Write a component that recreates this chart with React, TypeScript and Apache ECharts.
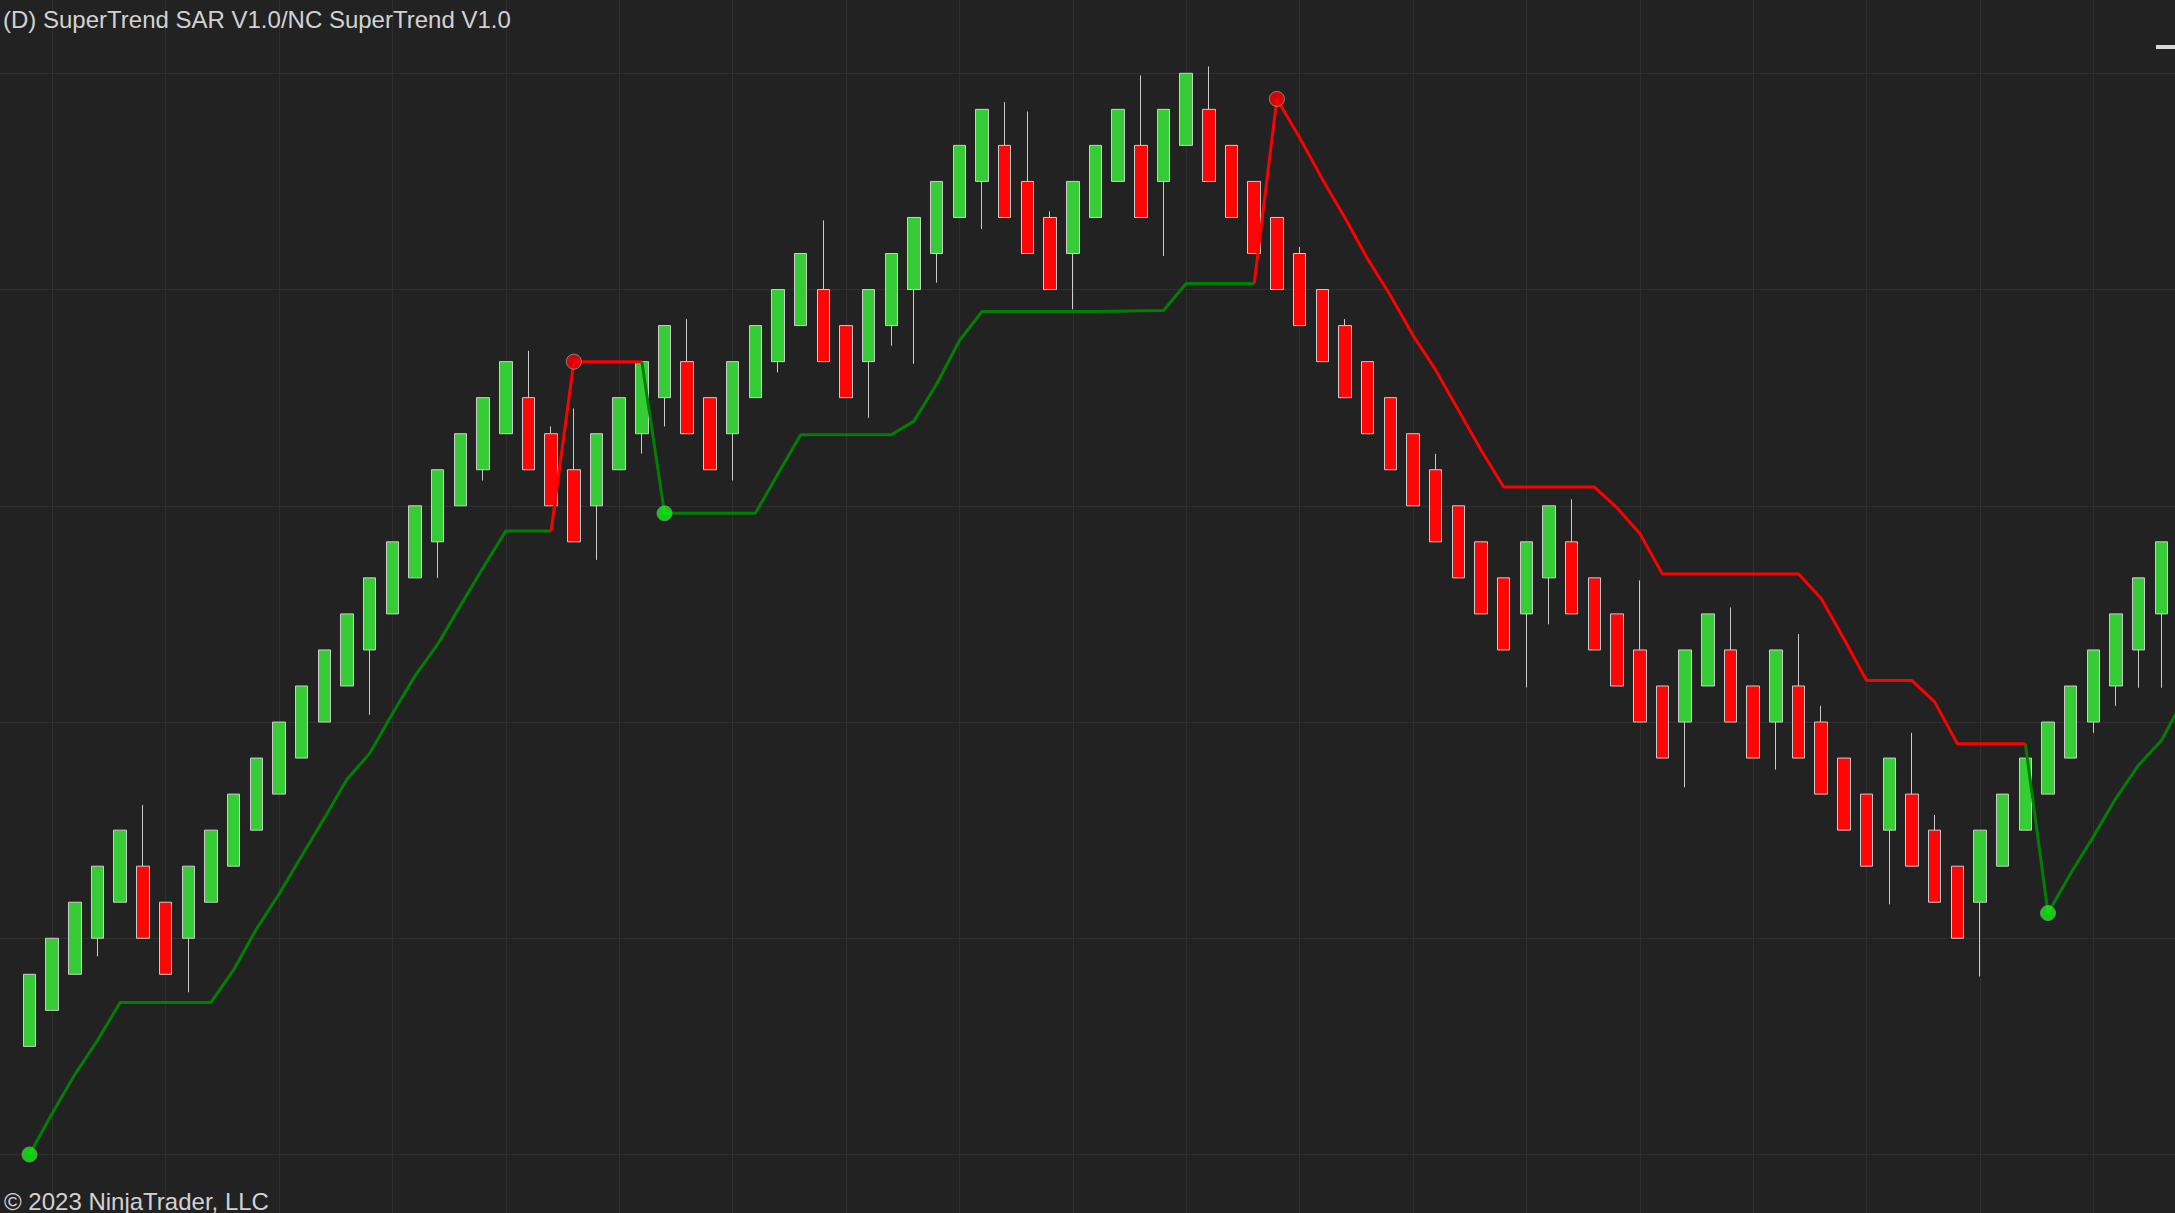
import React, { useEffect, useRef } from 'react';
import * as echarts from 'echarts';

const TITLE = '(D) SuperTrend SAR V1.0/NC SuperTrend V1.0';
const COPYRIGHT = '© 2023 NinjaTrader, LLC';

// Renko bricks, bar 1..95
const OPENS = [3,4,5,6,7,8,7,6,7,8,9,10,11,12,13,14,15,16,17,18,19,20,21,20,19,18,19,20,21,22,21,20,21,22,23,24,23,22,23,24,25,26,27,28,27,26,25,26,27,28,27,28,29,28,27,26,25,24,23,22,21,20,19,18,17,16,15,16,17,16,15,14,13,12,13,14,13,12,13,12,11,10,9,10,9,8,7,8,9,10,11,12,13,14,15];
const CLOSES = [5,6,7,8,9,6,5,8,9,10,11,12,13,14,15,16,17,18,19,20,21,22,19,18,17,20,21,22,23,20,19,22,23,24,25,22,21,24,25,26,27,28,29,26,25,24,27,28,29,26,29,30,27,26,25,24,23,22,21,20,19,18,17,16,15,14,17,18,15,14,13,12,11,14,15,12,11,14,11,10,9,8,11,8,7,6,9,10,11,12,13,14,15,16,17];
const LOWS = [3,4,5,5.5,7,6,5,4.5,7,8,9,10,11,12,13,12.2,15,16,16,18,18.7,20,19,18,17,16.5,19,19.45,20.2,20,19,18.7,21,21.7,23,22,21,20.44,22.44,21.94,24.19,26,25.68,26,25,24,23.45,26,27,26,24.93,28,27,26,25,24,23,22,21,20,19,18,17,16,15,14,12.96,14.71,15,14,13,12,11,10.19,13,12,11,10.68,11,10,9,8,6.94,8,7,6,4.94,8,9,10,11,11.7,12.45,12.95,12.95];
const HIGHS = [5,6,7,8,9,9.7,7,8,9,10,11,12,13,14,15,16,17,18,19,20,21,22,22.3,20.2,20.7,20,21,22,23,23.18,21,22,23,24,25,25.92,23,24,25,26,27,28,29,29.2,28.94,26.17,27,28,29,29.94,29,30,30.19,28,27,26,25.18,24,23.18,22,21,20,19.44,18,17,16,17,18,18.18,16,15,15.93,13,14,15,15.18,13,14,14.44,12.45,11,10,11,11.7,9.42,8,9,10,11,12,13,14,15,16,17];

// SuperTrend value and direction (1 = up / green, -1 = down / red), bar 1..96
const SUPERTREND = [0,1.14,2.22,3.17,4.22,4.22,4.22,4.22,4.22,5.12,6.25,7.22,8.28,9.33,10.41,11.13,12.23,13.28,14.16,15.23,16.28,17.3,17.3,17.3,22,22,22,22,17.79,17.79,17.79,17.79,17.79,18.88,19.97,19.97,19.97,19.97,19.97,20.35,21.38,22.58,23.39,23.39,23.39,23.39,23.39,23.39,23.4,23.41,23.42,24.17,24.17,24.17,24.17,29.29,28.22,27.07,25.99,24.85,23.84,22.73,21.77,20.66,19.55,18.52,18.52,18.52,18.52,18.52,17.94,17.23,16.11,16.11,16.11,16.11,16.11,16.11,16.11,15.43,14.31,13.15,13.15,13.15,12.56,11.4,11.4,11.4,11.4,6.7,7.8,8.82,9.89,10.81,11.49,12.66];
const DIRECTION = [1,1,1,1,1,1,1,1,1,1,1,1,1,1,1,1,1,1,1,1,1,1,1,1,-1,-1,-1,-1,1,1,1,1,1,1,1,1,1,1,1,1,1,1,1,1,1,1,1,1,1,1,1,1,1,1,1,-1,-1,-1,-1,-1,-1,-1,-1,-1,-1,-1,-1,-1,-1,-1,-1,-1,-1,-1,-1,-1,-1,-1,-1,-1,-1,-1,-1,-1,-1,-1,-1,-1,-1,1,1,1,1,1,1,1];

// Grid lines
const GRID_PRICES = [0, 6, 12, 18, 24, 30];
const GRID_BARS = [2, 7, 12, 17, 22, 27, 32, 37, 42, 47, 52, 57, 62, 67, 72, 77, 82, 87, 92];

const BG = '#222222';
const GRID_COLOR = '#2f2f2f';
const UP_FILL = '#36cc36';
const DOWN_FILL = '#ff0505';
const OUTLINE = '#cccccc';
const UP_LINE = '#008000';
const DOWN_LINE = '#ff0000';
const TEXT_COLOR = '#d2d2d2';
const FONT = '24px "Liberation Sans", Arial, sans-serif';

export default function App() {
  const ref = useRef<HTMLDivElement>(null);

  useEffect(() => {
    const chart = echarts.init(ref.current!, null, { renderer: 'svg' });
    const n = SUPERTREND.length;
    const categories = ['0'].concat(SUPERTREND.map((_, i) => String(i + 1)));

    const candles: any[] = [['-', '-', '-', '-']];
    for (let i = 0; i < n; i++) {
      if (i < OPENS.length) candles.push([OPENS[i], CLOSES[i], LOWS[i], HIGHS[i]]);
      else candles.push(['-', '-', '-', '-']);
    }

    const upLine: any[] = [null];
    const downLine: any[] = [null];
    const upDots: any[] = [];
    const downDots: any[] = [];
    for (let i = 0; i < n; i++) {
      const d = DIRECTION[i];
      const next = i + 1 < n ? DIRECTION[i + 1] : d;
      const v = SUPERTREND[i];
      upLine.push(d === 1 || next === 1 ? v : null);
      downLine.push(d === -1 || next === -1 ? v : null);
      if (i === 0 || DIRECTION[i - 1] !== d) {
        (d === 1 ? upDots : downDots).push([String(i + 1), v]);
      }
    }

    const option: any = {
      animation: false,
      backgroundColor: BG,
      grid: {
        left: -4.52,
        top: 0,
        width: 2199.96,
        height: 1213,
        containLabel: false,
        outerBoundsMode: 'none',
      },
      xAxis: {
        type: 'category',
        data: categories,
        boundaryGap: true,
        show: false,
      },
      yAxis: {
        type: 'value',
        min: -1.623,
        max: 32.034,
        show: false,
        splitLine: { show: false },
      },
      series: [
        {
          type: 'line',
          data: categories.map(() => null),
          z: 1,
          silent: true,
          markLine: {
            silent: true,
            z: 1,
            symbol: ['none', 'none'],
            label: { show: false },
            lineStyle: { color: GRID_COLOR, width: 1, type: 'solid' },
            emphasis: { disabled: true },
            data: [
              ...GRID_PRICES.map((p) => ({ yAxis: p })),
              ...GRID_BARS.map((b) => ({ xAxis: String(b) })),
            ],
          },
        },
        {
          type: 'candlestick',
          data: candles,
          z: 2,
          barWidth: 13,
          itemStyle: {
            color: UP_FILL,
            color0: DOWN_FILL,
            borderColor: OUTLINE,
            borderColor0: OUTLINE,
            borderWidth: 1,
          },
        },
        {
          type: 'line',
          data: upLine,
          z: 3,
          symbol: 'none',
          connectNulls: false,
          lineStyle: { color: UP_LINE, width: 3 },
        },
        {
          type: 'line',
          data: downLine,
          z: 3,
          symbol: 'none',
          connectNulls: false,
          lineStyle: { color: DOWN_LINE, width: 3 },
        },
        {
          type: 'scatter',
          data: upDots,
          z: 4,
          symbolSize: 15,
          itemStyle: { color: '#11f511', borderColor: '#8a8a8a', borderWidth: 1 },
        },
        {
          type: 'scatter',
          data: downDots,
          z: 4,
          symbolSize: 15,
          itemStyle: { color: '#ff0000', borderColor: '#9a9a9a', borderWidth: 1 },
        },
      ],
      graphic: [
        {
          type: 'text',
          x: 3,
          y: 19,
          z: 10,
          style: {
            text: TITLE,
            fill: TEXT_COLOR,
            font: FONT,
            verticalAlign: 'middle',
            textVerticalAlign: 'middle',
          },
        },
        {
          type: 'text',
          x: 4,
          y: 1201.5,
          z: 10,
          style: {
            text: COPYRIGHT,
            fill: TEXT_COLOR,
            font: FONT,
            verticalAlign: 'middle',
            textVerticalAlign: 'middle',
          },
        },
        {
          type: 'rect',
          z: 10,
          shape: { x: 2156, y: 45, width: 19, height: 4 },
          style: { fill: '#d8d8d8' },
        },
      ],
    };

    chart.setOption(option);
    return () => chart.dispose();
  }, []);

  return (
    <div
      ref={ref}
      style={{ position: 'fixed', left: 0, top: 0, width: 2175, height: 1213, background: BG }}
    />
  );
}
